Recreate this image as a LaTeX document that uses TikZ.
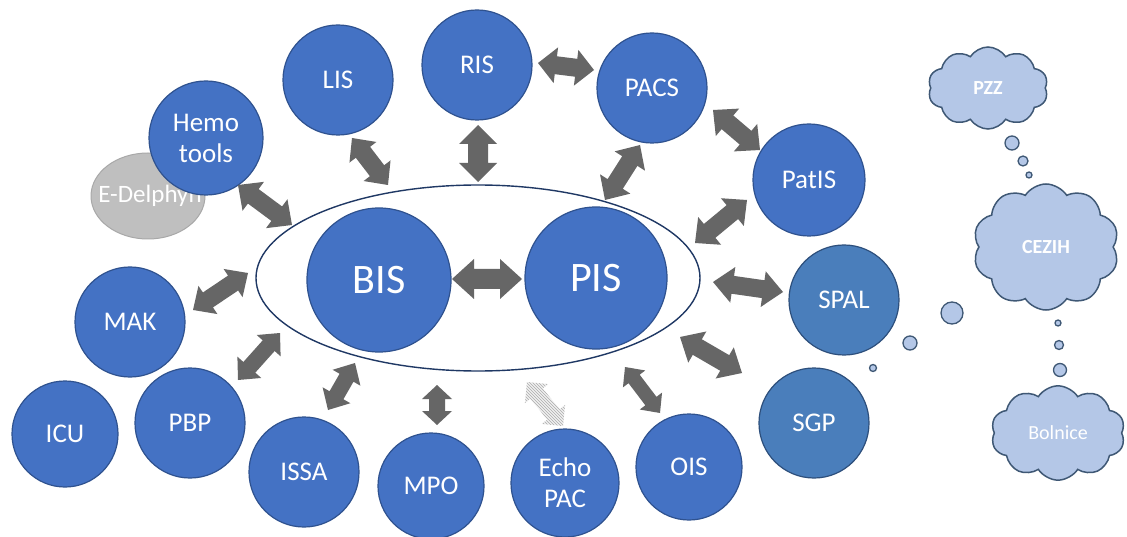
\documentclass[tikz,border=0pt]{standalone}
\usepackage{fontspec}
\setmainfont{Carlito}
\usetikzlibrary{calc,shapes.geometric,shapes.symbols,patterns}

\definecolor{nodeblue}{HTML}{4472C4}
\definecolor{nodeedge}{HTML}{2F528F}
\definecolor{steelfill}{HTML}{4A7EBB}
\definecolor{steeledge}{HTML}{2D4F7C}
\definecolor{arrowgray}{HTML}{666666}
\definecolor{ringcol}{HTML}{1F3864}
\definecolor{cloudfill}{HTML}{B4C7E7}
\definecolor{cloudedge}{HTML}{3F5875}
\definecolor{edelfill}{HTML}{BFBFBF}
\definecolor{edeledge}{HTML}{A8A8A8}

% block double arrow: #2 from, #3 to, #4 half shaft, #5 half head, #6 head length
\newcommand{\blkarrow}[6][arrowstyle]{%
  \path[#1] (#2)
   -- ($(#2)!#6pt!(#3)!#5pt!90:(#3)$)
   -- ($(#2)!#6pt!(#3)!#4pt!90:(#3)$)
   -- ($(#3)!#6pt!(#2)!#4pt!-90:(#2)$)
   -- ($(#3)!#6pt!(#2)!#5pt!-90:(#2)$)
   -- (#3)
   -- ($(#3)!#6pt!(#2)!#5pt!90:(#2)$)
   -- ($(#3)!#6pt!(#2)!#4pt!90:(#2)$)
   -- ($(#2)!#6pt!(#3)!#4pt!-90:(#3)$)
   -- ($(#2)!#6pt!(#3)!#5pt!-90:(#3)$)
   -- cycle;}

\begin{document}
\begin{tikzpicture}[x=1pt,y=-1pt,
  sys/.style={circle, draw=nodeedge, line width=1.2pt, fill=nodeblue, text=white,
    inner sep=0pt, align=center, font=\fontsize{27}{31}\selectfont},
  core/.style={sys, font=\fontsize{42}{46}\selectfont},
  steel/.style={sys, fill=steelfill, draw=steeledge},
  arrowstyle/.style={fill=arrowgray},
  hatchfill/.style={fill=gray!12},
  hatched/.style={pattern=north west lines, pattern color=gray!65},
  ring/.style={ellipse, draw=ringcol, line width=1.4pt, inner sep=0pt},
  cloudbox/.style={cloud, cloud puffs=10, cloud puff arc=115, draw=cloudedge,
    fill=cloudfill, line width=1.5pt, text=white, inner sep=0pt},
  bubble/.style={circle, draw=cloudedge, fill=cloudfill, line width=1.3pt, inner sep=0pt}
]
\fill[white] (0,0) rectangle (1127,537);
\useasboundingbox (0,0) rectangle (1127,537);

% central ring
\node[ring, minimum width=444pt, minimum height=186pt] (ring) at (478,278) {};
\node[core, minimum size=144pt] (BIS) at (379,280) {BIS};
\node[core, minimum size=142pt] (PIS) at (596,278) {PIS};

% top systems
\node[sys, minimum size=110pt] (LIS) at (338,80) {LIS};
\node[sys, minimum size=110pt] (RIS) at (477,65) {RIS};
\node[sys, minimum size=110pt] (PACS) at (652,88) {PACS};
\node[ellipse, fill=edelfill, draw=edeledge, line width=1pt, minimum width=114pt,
  minimum height=86pt, inner sep=0pt] (edel) at (148,196) {};
\node[text=white, inner sep=0pt, font=\fontsize{25}{28}\selectfont] (edeltext) at (150,196) {E-Delphyn};
\node[sys, minimum size=114pt] (hemo) at (206,138) {Hemo\\tools};
\node[sys, minimum size=112pt] (patis) at (809,180) {PatIS};

% right
\node[steel, minimum size=110pt] (spal) at (844,300) {SPAL};
\node[steel, minimum size=110pt] (sgp) at (814,423) {SGP};

% left and bottom
\node[sys, minimum size=110pt] (mak) at (130,322) {MAK};
\node[sys, minimum size=106pt] (icu) at (65,434) {ICU};
\node[sys, minimum size=110pt] (pbp) at (190,423) {PBP};
\node[sys, minimum size=110pt] (issa) at (304,472) {ISSA};
\node[sys, minimum size=106pt] (mpo) at (431,486) {MPO};
\node[sys, minimum size=108pt] (echo) at (565,483) {Echo\\PAC};
\node[sys, minimum size=106pt] (ois) at (689,467) {OIS};

% arrow end points
\coordinate (lisA) at (352,138);  \coordinate (lisB) at (388,185);
\coordinate (risA) at (478,125);  \coordinate (risB) at (478,182);
\coordinate (rpA) at (538,63);    \coordinate (rpB) at (594,70);
\coordinate (ppA) at (640,145);   \coordinate (ppB) at (605,200);
\coordinate (paA) at (713,110);   \coordinate (paB) at (760,150);
\coordinate (patA) at (747,200);  \coordinate (patB) at (695,243);
\coordinate (hemA) at (238,185);  \coordinate (hemB) at (292,225);
\coordinate (makA) at (193,310);  \coordinate (makB) at (248,273);
\coordinate (bpA) at (452,279);   \coordinate (bpB) at (522,279);
\coordinate (spA) at (713,282);   \coordinate (spB) at (783,292);
\coordinate (sgA) at (680,337);   \coordinate (sgB) at (742,373);
\coordinate (pbA) at (238,380);   \coordinate (pbB) at (280,333);
\coordinate (isA) at (328,410);   \coordinate (isB) at (355,363);
\coordinate (mpA) at (437,385);   \coordinate (mpB) at (437,425);
\coordinate (ecA) at (527,382);   \coordinate (ecB) at (563,426);
\coordinate (oiA) at (625,367);   \coordinate (oiB) at (660,413);

\blkarrow{lisA}{lisB}{9}{17}{18}
\blkarrow{risA}{risB}{10}{19}{19}
\blkarrow{rpA}{rpB}{9}{18}{18}
\blkarrow{ppA}{ppB}{9}{18}{19}
\blkarrow{paA}{paB}{9}{18}{19}
\blkarrow{patA}{patB}{9}{18}{19}
\blkarrow{hemA}{hemB}{9}{18}{19}
\blkarrow{makA}{makB}{9}{17}{18}
\blkarrow{bpA}{bpB}{10}{20}{22}
\blkarrow{spA}{spB}{9}{18}{20}
\blkarrow{sgA}{sgB}{9}{18}{20}
\blkarrow{pbA}{pbB}{8}{16}{17}
\blkarrow{isA}{isB}{8}{16}{17}
\blkarrow{mpA}{mpB}{8}{15}{14}
\blkarrow[hatchfill]{ecA}{ecB}{8}{15}{15}
\blkarrow[hatched]{ecA}{ecB}{8}{15}{15}
\blkarrow{oiA}{oiB}{7}{14}{15}

% clouds
\node[cloudbox, minimum width=120pt, minimum height=82pt,
  font=\bfseries\fontsize{20}{23}\selectfont] (pzz) at (988,88) {PZZ};
\node[cloudbox, minimum width=146pt, minimum height=126pt,
  font=\bfseries\fontsize{20}{23}\selectfont] (cezih) at (1046,247) {CEZIH};
\node[cloudbox, minimum width=134pt, minimum height=78pt,
  font=\fontsize{20}{23}\selectfont] (bolnice) at (1058,433) {Bolnice};

% thought bubbles
\node[bubble, minimum size=14pt] (b1) at (1012,143) {};
\node[bubble, minimum size=10pt] (b2) at (1023,161) {};
\node[bubble, minimum size=6pt] (b3) at (1029,175) {};
\node[bubble, minimum size=22pt] (b4) at (952,313) {};
\node[bubble, minimum size=14pt] (b5) at (910,343) {};
\node[bubble, minimum size=7pt] (b6) at (873,368) {};
\node[bubble, minimum size=6pt] (b7) at (1058,323) {};
\node[bubble, minimum size=9pt] (b8) at (1059,345) {};
\node[bubble, minimum size=13pt] (b9) at (1060,370) {};
\end{tikzpicture}
\end{document}
